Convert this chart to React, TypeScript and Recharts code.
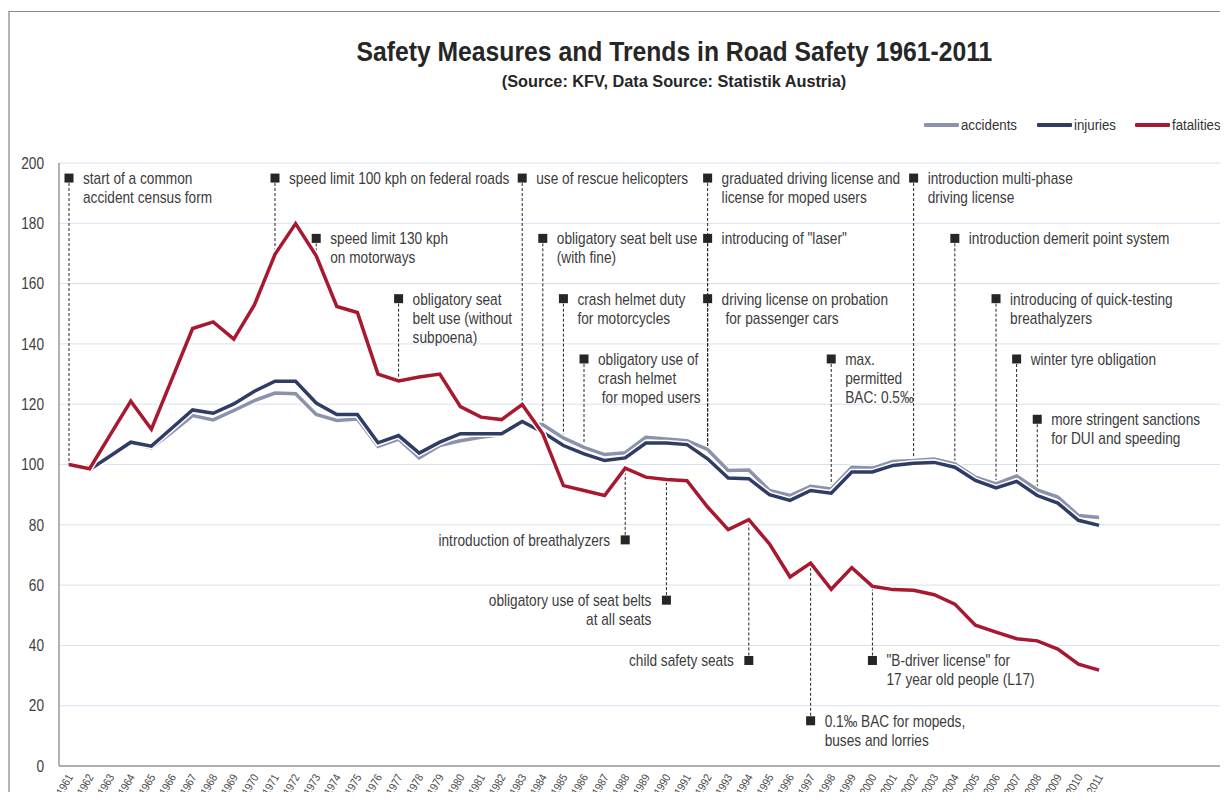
import React from 'react';
import {
  LineChart,
  Line,
  XAxis,
  YAxis,
  CartesianGrid,
  ReferenceLine,
  ReferenceDot,
} from 'recharts';

// no narrow face installed, so Liberation Sans is squeezed horizontally
const FONT = "'Liberation Sans', Arial, sans-serif";
const NARROW = 0.855;

const years = [
  1961, 1962, 1963, 1964, 1965, 1966, 1967, 1968, 1969, 1970,
  1971, 1972, 1973, 1974, 1975, 1976, 1977, 1978, 1979, 1980,
  1981, 1982, 1983, 1984, 1985, 1986, 1987, 1988, 1989, 1990,
  1991, 1992, 1993, 1994, 1995, 1996, 1997, 1998, 1999, 2000,
  2001, 2002, 2003, 2004, 2005, 2006, 2007, 2008, 2009, 2010,
  2011,
];

// index values, 1961 = 100
const accidents = [
  100, 98.3, 102.4, 107.1, 105.5, 110.7, 116.2, 114.8, 117.9, 121.2,
  123.7, 123.5, 116.6, 114.6, 115.1, 106.0, 108.4, 102.2, 106.3, 107.9,
  109.0, 109.9, 114.0, 113.2, 108.8, 105.7, 103.3, 103.9, 109.0, 108.5,
  107.9, 105.0, 98.0, 98.2, 91.4, 89.7, 92.8, 91.9, 99.1, 98.8,
  101.0, 101.3, 101.8, 100.2, 95.8, 93.6, 96.2, 91.6, 89.2, 83.1,
  82.4,
];

const injuries = [
  100, 98.3, 102.8, 107.4, 106.1, 112.1, 118.1, 117.0, 120.1, 124.3,
  127.6, 127.6, 120.4, 116.6, 116.6, 107.2, 109.6, 103.8, 107.4, 110.2,
  110.2, 110.2, 114.3, 110.7, 106.3, 103.5, 101.3, 102.2, 107.1, 107.1,
  106.6, 101.9, 95.5, 95.3, 90.0, 88.1, 91.4, 90.5, 97.5, 97.5,
  99.7, 100.4, 100.7, 99.1, 94.7, 92.2, 94.4, 89.7, 87.2, 81.5,
  79.8,
];

const fatalities = [
  100, 98.6, 109.8, 121.0, 111.7, 128.4, 145.1, 147.3, 141.6, 152.9,
  169.7, 179.9, 169.2, 152.4, 150.4, 130.0, 127.7, 129.0, 130.0, 119.2,
  115.7, 114.9, 119.9, 110.2, 93.0, 91.4, 89.7, 98.8, 95.8, 95.0,
  94.6, 85.9, 78.4, 81.7, 73.7, 62.7, 67.3, 58.6, 65.8, 59.6,
  58.5, 58.3, 56.8, 53.7, 46.7, 44.4, 42.2, 41.5, 38.8, 33.8,
  31.8,
];

const yTicks = [0, 20, 40, 60, 80, 100, 120, 140, 160, 180, 200];

// measures: year, marker height, which line the leader goes to, text, text side
const measures = [
  { year: 1961, at: 195, to: 'accidents', side: 'right', text: 'start of a common\naccident census form' },
  { year: 1971, at: 195, to: 'fatalities', side: 'right', text: 'speed limit 100 kph on federal roads' },
  { year: 1973, at: 175, to: 'fatalities', side: 'right', text: 'speed limit 130 kph\non motorways' },
  { year: 1977, at: 155, to: 'fatalities', side: 'right', text: 'obligatory seat\nbelt use (without\nsubpoena)' },
  { year: 1983, at: 195, to: 'fatalities', side: 'right', text: 'use of rescue helicopters' },
  { year: 1984, at: 175, to: 'accidents', side: 'right', text: 'obligatory seat belt use\n(with fine)' },
  { year: 1985, at: 155, to: 'accidents', side: 'right', text: 'crash helmet duty\nfor motorcycles' },
  { year: 1986, at: 135, to: 'accidents', side: 'right', text: 'obligatory use of\ncrash helmet\n for moped users' },
  { year: 1992, at: 195, to: 'accidents', side: 'right', text: 'graduated driving license and\nlicense for moped users' },
  { year: 1992, at: 175, to: 'accidents', side: 'right', text: 'introducing of "laser"' },
  { year: 1992, at: 155, to: 'accidents', side: 'right', text: 'driving license on probation\n for passenger cars' },
  { year: 1998, at: 135, to: 'accidents', side: 'right', text: 'max.\npermitted\nBAC: 0.5‰' },
  { year: 2002, at: 195, to: 'accidents', side: 'right', text: 'introduction multi-phase\ndriving license' },
  { year: 2004, at: 175, to: 'accidents', side: 'right', text: 'introduction demerit point system' },
  { year: 2006, at: 155, to: 'accidents', side: 'right', text: 'introducing of quick-testing\nbreathalyzers' },
  { year: 2007, at: 135, to: 'accidents', side: 'right', text: 'winter tyre obligation' },
  { year: 2008, at: 115, to: 'accidents', side: 'right', text: 'more stringent sanctions\nfor DUI and speeding' },
  { year: 1988, at: 75, to: 'fatalities', side: 'left', text: 'introduction of breathalyzers' },
  { year: 1990, at: 55, to: 'fatalities', side: 'left', text: 'obligatory use of seat belts\nat all seats' },
  { year: 1994, at: 35, to: 'fatalities', side: 'left', text: 'child safety seats' },
  { year: 1997, at: 15, to: 'fatalities', side: 'right', text: '0.1‰ BAC for mopeds,\nbuses and lorries' },
  { year: 2000, at: 35, to: 'fatalities', side: 'right', text: '"B-driver license" for\n17 year old people (L17)' },
];

const series = { accidents, injuries, fatalities };

const data = years.map((year, i) => ({
  year,
  accidents: accidents[i],
  injuries: injuries[i],
  fatalities: fatalities[i],
}));

const lines = [
  { key: 'accidents', color: '#8c92ac', left: 924 },
  { key: 'injuries', color: '#2f3c66', left: 1037 },
  { key: 'fatalities', color: '#a8182e', left: 1135 },
];

const XTick = ({ x, y, payload }: any) => (
  <text
    x={0}
    y={0}
    dy="0.35em"
    transform={`translate(${x + 1} ${y}) rotate(-60) scale(${NARROW} 1)`}
    textAnchor="end"
    fontSize={11.5}
    fontFamily={FONT}
    fill="#4a4a4a"
  >
    {payload.value}
  </text>
);

const YTick = ({ x, y, payload }: any) => (
  <text
    x={0}
    y={0}
    dy="0.36em"
    transform={`translate(${x} ${y}) scale(${NARROW} 1)`}
    textAnchor="end"
    fontSize={16}
    fontFamily={FONT}
    fill="#404040"
  >
    {payload.value}
  </text>
);

const Marker = (side: string, text: string) => (props: any) => {
  const { cx, cy } = props;
  const rows = text.split('\n');
  const left = side === 'left';
  const tx = left ? cx - 15 : cx + 14;
  return (
    <g>
      <rect x={cx - 4.5} y={cy - 4.5} width={9} height={9} fill="#262626" />
      <text
        x={0}
        y={0}
        transform={`translate(${tx} ${cy + 6}) scale(${NARROW} 1)`}
        textAnchor={left ? 'end' : 'start'}
        fontSize={16}
        fontFamily={FONT}
        fill="#3c3c3c"
        style={{ whiteSpace: 'pre' }}
      >
        {rows.map((r, i) => (
          <tspan key={i} x={0} dy={i === 0 ? 0 : 19}>
            {r}
          </tspan>
        ))}
      </text>
    </g>
  );
};

const squeeze = (k: number): React.CSSProperties => ({
  display: 'inline-block',
  transform: `scaleX(${k})`,
  transformOrigin: 'center',
  whiteSpace: 'nowrap',
});

const App: React.FC = () => {
  return (
    <div
      style={{
        position: 'relative',
        width: 1228,
        height: 800,
        margin: -8,
        overflow: 'hidden',
        background: '#fff',
        fontFamily: FONT,
      }}
    >
      <div style={{ position: 'absolute', left: 8, top: 11, width: 2, height: 789, background: '#b4b4b4' }} />
      <div style={{ position: 'absolute', left: 9, top: 11, width: 1219, height: 1, background: '#8a8a8a' }} />
      <div
        style={{
          position: 'absolute',
          left: 0,
          width: 1348,
          top: 37,
          textAlign: 'center',
          fontSize: 27,
          fontWeight: 700,
          color: '#262626',
        }}
      >
        <span style={squeeze(0.915)}>Safety Measures and Trends in Road Safety 1961-2011</span>
      </div>
      <div
        style={{
          position: 'absolute',
          left: 0,
          width: 1348,
          top: 72,
          textAlign: 'center',
          fontSize: 16.3,
          fontWeight: 700,
          color: '#262626',
        }}
      >
        <span style={squeeze(1)}>(Source: KFV, Data Source: Statistik Austria)</span>
      </div>
      {lines.map((l) => (
        <div
          key={`lg-${l.key}`}
          style={{ position: 'absolute', top: 115, left: l.left, height: 20, display: 'flex', alignItems: 'center', fontSize: 15.5, color: '#333' }}
        >
          <div style={{ width: 35, height: 3.5, background: l.color, borderRadius: 1 }} />
          <span style={{ ...squeeze(NARROW), marginLeft: 2, transformOrigin: 'left center' }}>{l.key}</span>
        </div>
      ))}
      <div style={{ position: 'absolute', left: 0, top: 0 }}>
        <LineChart width={1228} height={800} data={data} margin={{ top: 163, right: 0, bottom: 0, left: 9 }}>
          <CartesianGrid horizontal vertical={false} stroke="#d8e1f0" />
          <XAxis
            dataKey="year"
            type="number"
            domain={[1960.515, 2017.26]}
            ticks={years}
            interval={0}
            height={34}
            tick={<XTick />}
            tickLine={false}
            tickSize={0}
            tickMargin={9}
            axisLine={{ stroke: '#9a9a9a', strokeWidth: 1.5 }}
            allowDataOverflow
          />
          <YAxis
            domain={[0, 200]}
            ticks={yTicks}
            width={50}
            tickLine={false}
            tickSize={0}
            tickMargin={15}
            axisLine={{ stroke: '#9a9a9a', strokeWidth: 1.5 }}
            tick={<YTick />}
          />
          {measures.map((m, i) => (
            <ReferenceLine
              key={`seg-${i}`}
              segment={[
                { x: m.year, y: m.at },
                { x: m.year, y: (series as any)[m.to][years.indexOf(m.year)] },
              ]}
              stroke="#222"
              strokeWidth={1}
              strokeDasharray="3 2"
            />
          ))}
          {lines.map((l) => [
            <Line
              key={`${l.key}-halo`}
              dataKey={l.key}
              type="linear"
              stroke="#ffffff"
              strokeWidth={6.5}
              dot={false}
              activeDot={false}
              isAnimationActive={false}
              legendType="none"
            />,
            <Line
              key={l.key}
              dataKey={l.key}
              type="linear"
              stroke={l.color}
              strokeWidth={3.5}
              dot={false}
              activeDot={false}
              isAnimationActive={false}
            />,
          ])}
          {measures.map((m, i) => (
            <ReferenceDot
              key={`dot-${i}`}
              x={m.year}
              y={m.at}
              r={5}
              shape={Marker(m.side, m.text)}
            />
          ))}
        </LineChart>
      </div>
    </div>
  );
};

export default App;
